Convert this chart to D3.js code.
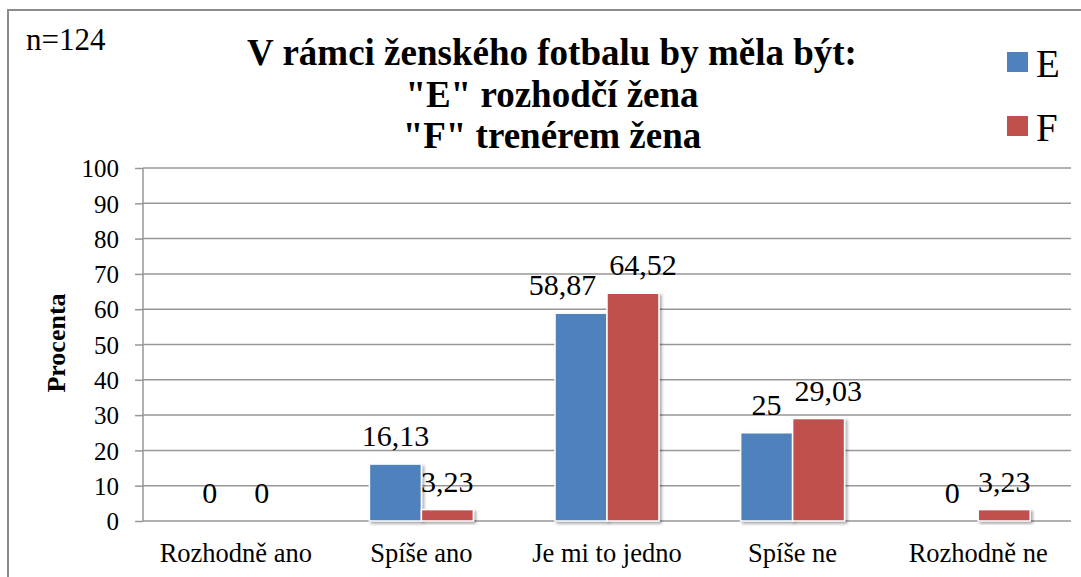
<!DOCTYPE html>
<html><head>
<meta charset="utf-8">
<script src="https://d3js.org/d3.v7.min.js"></script>
<style>
  body { margin: 0; background: #fff; }
</style>
</head>
<body>
<div id="chart"></div>
<script>
// data
const categories = ["Rozhodně ano", "Spíše ano", "Je mi to jedno", "Spíše ne", "Rozhodně ne"];
const seriesNames = ["E", "F"];
const valuesE = [0, 16.13, 58.87, 25, 0];
const valuesF = [0, 3.23, 64.52, 29.03, 3.23];
const yTicks = [0, 10, 20, 30, 40, 50, 60, 70, 80, 90, 100];
const titleLines = ["V rámci ženského fotbalu by měla být:", "\"E\" rozhodčí žena", "\"F\" trenérem žena"];

const colors = { E: "#4F81BD", F: "#C0504D" };
const serif = "'Liberation Serif', 'Times New Roman', Times, serif";
const width = 1081, height = 577;
const margin = { top: 168, right: 10, bottom: 56, left: 143 };
const plotW = 1071 - margin.left;
const plotH = 521 - margin.top;

const svg = d3.select("#chart").append("svg")
  .attr("width", width).attr("height", height)
  .style("font-family", serif);

// drop shadow for the bars
const defs = svg.append("defs");
const f = defs.append("filter").attr("id", "shadow")
  .attr("x", "-20%").attr("y", "-20%").attr("width", "150%").attr("height", "150%");
f.append("feDropShadow").attr("dx", 2).attr("dy", 2).attr("stdDeviation", 1.6)
  .attr("flood-color", "#000").attr("flood-opacity", 0.35);

// outer border
svg.append("rect").attr("x", 8).attr("y", 10).attr("width", width + 10).attr("height", height + 10)
  .attr("fill", "none").attr("stroke", "#8c8c8c").attr("stroke-width", 2);

const g = svg.append("g").attr("transform", `translate(${margin.left},${margin.top})`);

const x0 = d3.scaleBand().domain(categories).range([0, plotW]).paddingInner(0.44).paddingOuter(0.22);
const x1 = d3.scaleBand().domain(seriesNames).range([0, x0.bandwidth()]).padding(0);
const y = d3.scaleLinear().domain([0, 100]).range([plotH, 0]);

// gridlines
g.selectAll(".grid").data(yTicks).join("line")
  .attr("x1", 0).attr("x2", plotW)
  .attr("y1", d => y(d)).attr("y2", d => y(d))
  .attr("stroke", "#979797").attr("stroke-width", 1.5);

// y axis
const yAxis = g.append("g").call(d3.axisLeft(y).tickValues(yTicks).tickSize(8).tickPadding(16));
yAxis.attr("font-family", null).attr("font-size", null);
yAxis.select(".domain").attr("stroke", "#979797").attr("stroke-width", 1.5).attr("d", `M0,${y(100)}V${y(0)}`);
yAxis.selectAll(".tick line").attr("stroke", "#979797").attr("stroke-width", 1.5);
yAxis.selectAll(".tick text").style("font-family", serif).style("font-size", "25px").attr("fill", "#000").attr("dy", "0.35em");

// bars
const rows = categories.map((c, i) => ({ cat: c, vals: [{ s: "E", v: valuesE[i] }, { s: "F", v: valuesF[i] }] }));
const groups = g.selectAll(".grp").data(rows).join("g")
  .attr("transform", d => `translate(${x0(d.cat)},0)`);

groups.selectAll("rect").data(d => d.vals.filter(e => e.v > 0)).join("rect")
  .attr("x", d => x1(d.s)).attr("width", x1.bandwidth())
  .attr("y", d => y(d.v)).attr("height", d => y(0) - y(d.v))
  .attr("fill", d => colors[d.s]).attr("stroke", "#fff").attr("stroke-width", 1.5)
  .attr("filter", "url(#shadow)");

// value labels - when E and F labels collide, push them apart
groups.each(function(d) {
  const grp = d3.select(this);
  const labels = d.vals.map(e => grp.append("text")
    .attr("x", x1(e.s) + x1.bandwidth() / 2)
    .attr("y", y(e.v) - 18)
    .attr("text-anchor", "middle")
    .style("font-family", serif).style("font-size", "30px")
    .text(String(e.v).replace(".", ",")));
  const [tE, tF] = labels;
  const bE = tE.node().getBBox(), bF = tF.node().getBBox();
  const vOverlap = bE.y < bF.y + bF.height && bF.y < bE.y + bE.height;
  const gap = 13;
  const need = bE.x + bE.width - (bF.x - gap);
  if (vOverlap && need > 0 && Math.abs(bE.y - bF.y) > 2) {
    const fShift = Math.min(need, 10);
    tF.attr("x", +tF.attr("x") + fShift);
    tE.attr("x", +tE.attr("x") - (need - fShift));
  }
});

// category labels
g.selectAll(".cat").data(categories).join("text")
  .attr("x", d => x0(d) + x0.bandwidth() / 2)
  .attr("y", plotH + 41)
  .attr("text-anchor", "middle")
  .style("font-family", serif).style("font-size", "26.5px")
  .text(d => d);

// y axis title
svg.append("text")
  .attr("transform", `translate(65,343) rotate(-90)`)
  .attr("text-anchor", "middle")
  .style("font-family", serif).style("font-size", "26px").style("font-weight", "bold")
  .text("Procenta");

// chart title
svg.append("g").selectAll("text").data(titleLines).join("text")
  .attr("x", 552).attr("y", (d, i) => 65 + i * 41.5)
  .attr("text-anchor", "middle")
  .style("font-family", serif).style("font-size", "37px").style("font-weight", "bold")
  .text(d => d);

// n
svg.append("text").attr("x", 26).attr("y", 50)
  .style("font-family", serif).style("font-size", "31px").text("n=124");

// legend
const leg = svg.append("g").selectAll("g").data(seriesNames).join("g")
  .attr("transform", (d, i) => `translate(1007,${52 + i * 64})`);
leg.append("rect").attr("width", 21).attr("height", 20).attr("fill", d => colors[d]);
leg.append("text").attr("x", 29).attr("y", 25)
  .style("font-family", serif).style("font-size", "39px").text(d => d);
</script>
</body>
</html>
